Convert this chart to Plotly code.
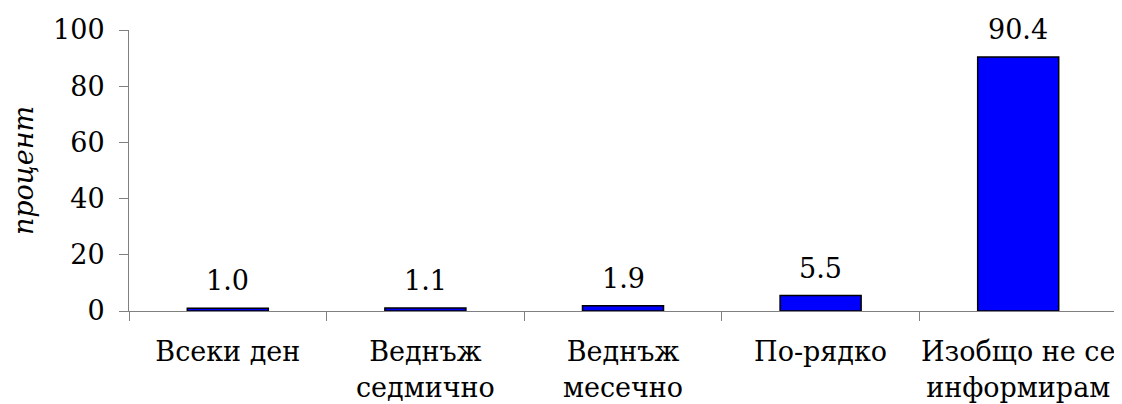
import plotly.graph_objects as go

categories = ["Всеки ден", "Веднъж<br>седмично", "Веднъж<br>месечно", "По-рядко", "Изобщо не се<br>информирам"]
values = [1.0, 1.1, 1.9, 5.5, 90.4]
y_ticks = [0, 20, 40, 60, 80, 100]

FONT = "DejaVu Serif"
FS = 27

fig = go.Figure()
fig.add_trace(go.Bar(
    x=categories, y=values,
    marker=dict(color="#0000FF", line=dict(color="black", width=1.5)),
    width=0.41,
))
for c, v in zip(categories, values):
    fig.add_annotation(x=c, y=v, text=f"{v:.1f}", showarrow=False,
                       yanchor="bottom", yshift=10,
                       font=dict(family=FONT, size=FS, color="black"))

# page body has an 8px default margin, so the figure is 8px smaller on each side
fig.update_layout(
    width=1114, height=396,
    margin=dict(l=121, r=5, t=22, b=93),
    plot_bgcolor="white", paper_bgcolor="white",
    showlegend=False,
    font=dict(family=FONT, size=FS, color="black"),
)
fig.update_xaxes(
    range=[-0.5, 4.5], showline=True, linecolor="#808080", linewidth=1,
    ticks="outside", tickson="boundaries", ticklen=9, tickcolor="#808080",
    showgrid=False, ticklabelstandoff=17, automargin=False, tickangle=0,
    tickfont=dict(family=FONT, size=FS, color="black"),
)
fig.update_yaxes(
    range=[0, 100], tickvals=y_ticks, showline=True, linecolor="#808080", linewidth=1,
    ticks="outside", ticklen=9, tickcolor="#808080", showgrid=False, zeroline=False,
    ticklabelstandoff=9, automargin=False,
    tickfont=dict(family=FONT, size=FS, color="black"),
    title=dict(text="процент", font=dict(family=FONT, size=FS, color="black", style="italic"), standoff=11),
)

fig.write_html("out.html")
